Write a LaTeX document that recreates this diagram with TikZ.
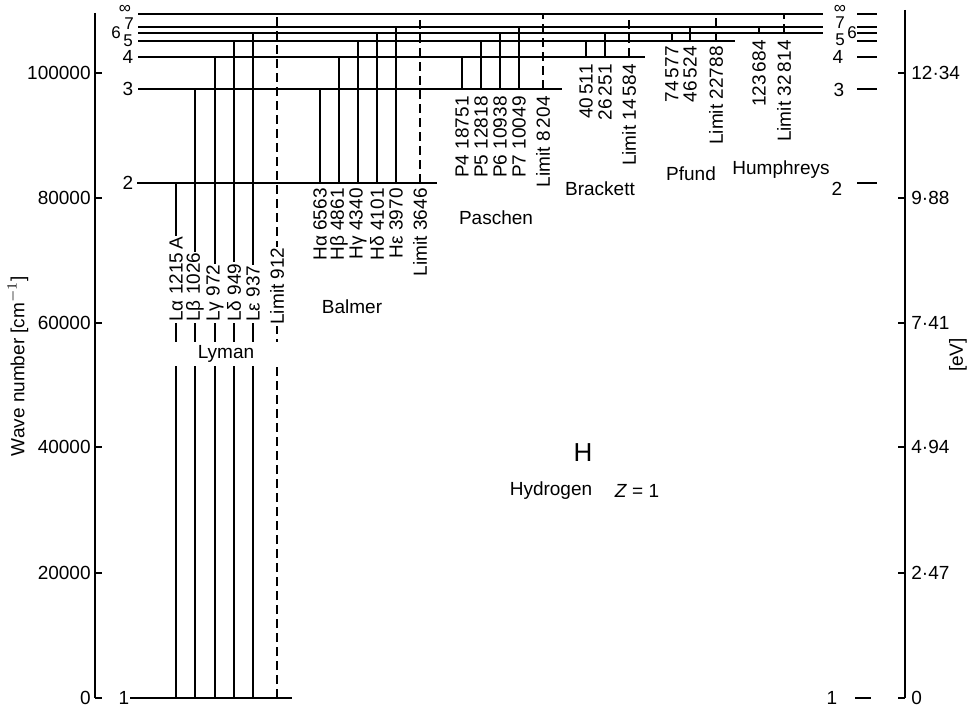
\documentclass[tikz,border=0pt]{standalone}
\usepackage{fontspec}
\setmainfont{Liberation Sans}
\newcommand\lf{\fontsize{9.5}{11}\selectfont}
\newcommand\smlf{\fontsize{8.5}{10}\selectfont}
\begin{document}
\begin{tikzpicture}[x=0.5pt,y=-0.5pt,
  lev/.style={line width=0.7pt},
  tr/.style={line width=1pt},
  lim/.style={line width=1pt, dash pattern=on 4.5pt off 2.5pt},
  vl/.style={rotate=90, fill=white, inner sep=0.5pt, font=\lf},
  nm/.style={font=\lf, inner sep=1pt},
  sm/.style={font=\smlf, inner sep=0pt},
  ax/.style={line width=1pt}]
\useasboundingbox (0,0) rectangle (973,710);
\def\yI{698}\def\yII{183}\def\yIII{89}\def\yIV{57}\def\yV{41}\def\yVI{33}\def\yVII{27}\def\yInf{14}
% axes
\draw[ax] (95,13) -- (95,698);
\foreach \y/\t in {73/100000,198/80000,323/60000,447/40000,573/20000,698/0}{
  \draw[lev] (95,\y) -- (102,\y);
  \node[nm, anchor=east] at (93,\y) {\t};
}
\draw[ax] (905,10) -- (905,698);
\foreach \y/\t in {73/12·34,198/9·88,323/7·41,447/4·94,573/2·47,698/0}{
  \draw[lev] (898,\y) -- (905,\y);
  \node[nm, anchor=west] at (909,\y) {\t};
}
\node[nm, rotate=90] (ylab) at (18,366) {Wave number [cm$^{-1}$]};
\node[nm, rotate=90] (evlab) at (958,355) {[eV]};
% levels
\draw[lev] (130,\yI) -- (292,\yI);
\draw[lev] (137,\yII) -- (437,\yII);
\draw[lev] (138,\yIII) -- (562,\yIII);
\draw[lev] (138,\yIV) -- (645,\yIV);
\draw[lev] (138,\yV) -- (735,\yV);
\draw[lev] (138,\yVI) -- (823,\yVI);
\draw[lev] (138,\yVII) -- (823,\yVII);
\draw[lev] (138,\yInf) -- (823,\yInf);
\foreach \y in {\yII,\yIII,\yIV,\yV,\yVI,\yVII,\yInf}{\draw[lev] (857,\y) -- (877,\y);}
\draw[lev] (855,\yI) -- (871,\yI);
% left level labels
\node[sm] at (125,9) {∞};
\node[sm] at (129,24) {7};
\node[sm] at (116,33) {6};
\node[sm] at (128,41) {5};
\node[nm] at (128,57) {4};
\node[nm] at (128,89) {3};
\node[nm] at (128,183) {2};
\node[nm] at (124,698) {1};
% right level labels
\node[sm] at (840,9) {∞};
\node[sm] at (840,23) {7};
\node[sm] at (852,33) {6};
\node[sm] at (840,40) {5};
\node[nm] at (838,57) {4};
\node[nm] at (839,90) {3};
\node[nm] at (837,189) {2};
\node[nm] at (832,698) {1};
% Lyman
\draw[tr] (176,\yI) -- (176,\yII);
\draw[tr] (195,\yI) -- (195,\yIII);
\draw[tr] (215,\yI) -- (215,\yIV);
\draw[tr] (234,\yI) -- (234,\yV);
\draw[tr] (253,\yI) -- (253,\yVI);
\draw[lim] (277,\yI) -- (277,\yInf);
\node[vl, anchor=west] at (176,323) {Lα 1215\,A};
\node[vl, anchor=west] at (195,323) {Lβ 1026};
\node[vl, anchor=west] at (215,323) {Lγ 972};
\node[vl, anchor=west] at (234,323) {Lδ 949};
\node[vl, anchor=west] at (253,323) {Lε 937};
\node[vl, anchor=west] at (277,326) {Limit 912};
\node[nm, fill=white, minimum width=60pt, minimum height=12pt] (lyman) at (226,354) {Lyman};
% Balmer
\draw[tr] (320,\yII) -- (320,\yIII);
\draw[tr] (339,\yII) -- (339,\yIV);
\draw[tr] (358,\yII) -- (358,\yV);
\draw[tr] (377,\yII) -- (377,\yVI);
\draw[tr] (396,\yII) -- (396,\yVII);
\draw[lim] (420,\yII) -- (420,\yInf);
\node[vl, anchor=east] at (320,187) {Hα 6563};
\node[vl, anchor=east] at (339,187) {Hβ 4861};
\node[vl, anchor=east] at (358,187) {Hγ 4340};
\node[vl, anchor=east] at (377,187) {Hδ 4101};
\node[vl, anchor=east] at (396,187) {Hε 3970};
\node[vl, anchor=east] at (420,187) {Limit 3646};
\node[nm] (balmer) at (352,307) {Balmer};
% Paschen
\draw[tr] (462,\yIII) -- (462,\yIV);
\draw[tr] (481,\yIII) -- (481,\yV);
\draw[tr] (500,\yIII) -- (500,\yVI);
\draw[tr] (519,\yIII) -- (519,\yVII);
\draw[lim] (543,\yIII) -- (543,\yInf);
\node[vl, anchor=east] at (462,95) {P4 18751};
\node[vl, anchor=east] at (481,95) {P5 12818};
\node[vl, anchor=east] at (500,95) {P6 10938};
\node[vl, anchor=east] at (519,95) {P7 10049};
\node[vl, anchor=east] at (543,95) {Limit 8\,204};
\node[nm] (paschen) at (496,218) {Paschen};
% Brackett
\draw[tr] (586,\yIV) -- (586,\yV);
\draw[tr] (605,\yIV) -- (605,\yVI);
\draw[lim] (629,\yIV) -- (629,\yInf);
\node[vl, anchor=east] at (586,63) {40\,511};
\node[vl, anchor=east] at (605,63) {26\,251};
\node[vl, anchor=east] at (629,63) {Limit 14\,584};
\node[nm] (brackett) at (600,189) {Brackett};
% Pfund
\draw[tr] (672,\yV) -- (672,\yVI);
\draw[tr] (690,\yV) -- (690,\yVII);
\draw[lim] (716,\yV) -- (716,\yInf);
\node[vl, anchor=east] at (672,45) {74\,577};
\node[vl, anchor=east] at (690,45) {46\,524};
\node[vl, anchor=east] at (716,45) {Limit 22788};
\node[nm] (pfund) at (691,174) {Pfund};
% Humphreys
\draw[tr] (759,\yVI) -- (759,\yVII);
\draw[lim] (784,\yVI) -- (784,\yInf);
\node[vl, anchor=east] at (759,39) {123\,684};
\node[vl, anchor=east] at (784,39) {Limit 32\,814};
\node[nm] (humph) at (781,170) {Humphreys};
% title
\node[font=\fontsize{13}{15}\selectfont] (H) at (583,453) {H};
\node[nm] (hyd) at (551,491) {Hydrogen};
\node[nm] (z) at (637,491) {\textit{Z} = 1};
\end{tikzpicture}
\end{document}
